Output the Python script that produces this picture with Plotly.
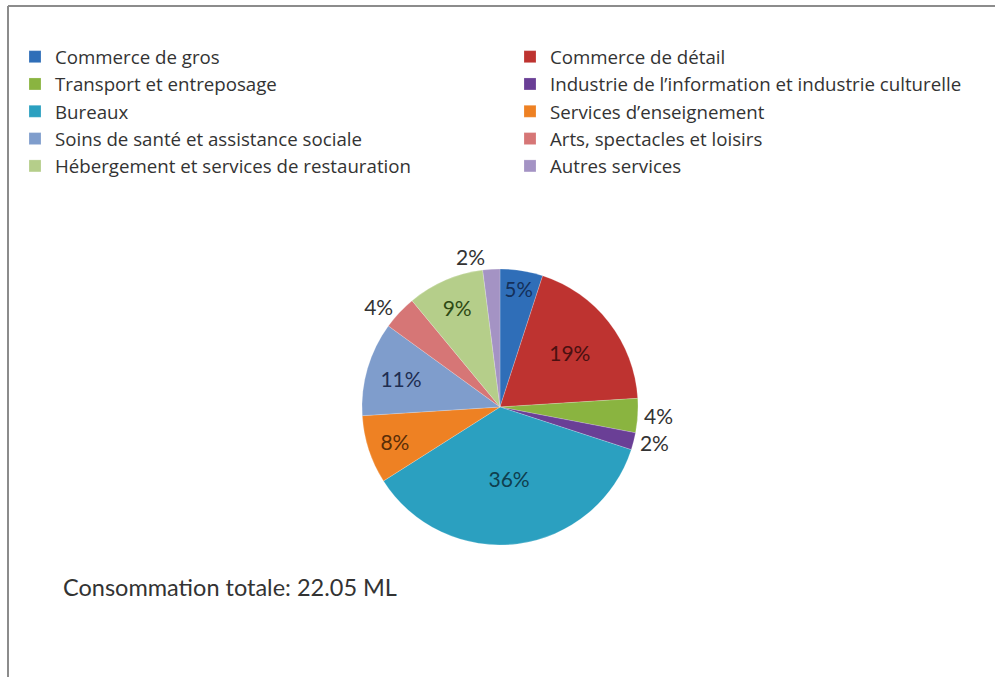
import plotly.graph_objects as go

categories = [
    "Commerce de gros",
    "Commerce de détail",
    "Transport et entreposage",
    "Industrie de l’information et industrie culturelle",
    "Bureaux",
    "Services d’enseignement",
    "Soins de santé et assistance sociale",
    "Arts, spectacles et loisirs",
    "Hébergement et services de restauration",
    "Autres services",
]
shares = [5, 19, 4, 2, 36, 8, 11, 4, 9, 2]
slice_colors = ["#2F6EB8", "#BE3330", "#8AB440", "#6A3F96", "#2BA0C0",
                "#EE8123", "#7F9DCC", "#D67676", "#B5CE8A", "#A493C4"]
label_colors = ["#14305A", "#4A1010", "#333333", "#333333", "#0F3E4E",
                "#5A2E08", "#1E2E52", "#333333", "#2E4A14", "#333333"]
text_positions = ["inside", "inside", "outside", "outside", "inside",
                  "inside", "inside", "outside", "inside", "outside"]
total_note = "Consommation totale: 22.05 ML"

W, H = 995, 677
cx, cy, r = 500, 407, 138
FONT = "Lato, Open Sans, sans-serif"
LEG_FONT = "Open Sans, Lato, sans-serif"

fig = go.Figure(go.Pie(
    labels=categories,
    values=shares,
    sort=False,
    direction="clockwise",
    rotation=0,
    marker=dict(colors=slice_colors, line=dict(color="rgba(255,255,255,0.4)", width=0.5)),
    texttemplate="%{value}%",
    textposition=text_positions,
    insidetextorientation="horizontal",
    textfont=dict(family=FONT, size=21, color=label_colors),
    outsidetextfont=dict(family=FONT, size=21, color="#333333"),
    domain=dict(x=[(cx - r) / W, (cx + r) / W], y=[1 - (cy + r) / H, 1 - (cy - r) / H]),
    automargin=False,
    hoverinfo="label+percent",
))

fig.update_layout(
    width=W, height=H,
    margin=dict(l=0, r=0, t=0, b=0, autoexpand=False),
    paper_bgcolor="white",
    plot_bgcolor="white",
    showlegend=True,
    legend=dict(
        orientation="h",
        xref="container", yref="container",
        x=15 / W, y=1 - 38 / H,
        xanchor="left", yanchor="top",
        entrywidth=450, entrywidthmode="pixels",
        bgcolor="rgba(0,0,0,0)",
        font=dict(family=LEG_FONT, size=18.7, color="#333333"),
        itemclick=False, itemdoubleclick=False,
        tracegroupgap=0,
    ),
    annotations=[dict(
        text=total_note, xref="paper", yref="paper",
        x=61 / W, y=1 - 587 / H, xanchor="left", yanchor="middle",
        showarrow=False,
        font=dict(family=FONT, size=23.5, color="#333333"),
    )],
    shapes=[
        dict(type="line", xref="paper", yref="paper", x0=8 / W, x1=1, y0=1 - 6 / H, y1=1 - 6 / H,
             line=dict(color="#8C8C8C", width=2)),
        dict(type="line", xref="paper", yref="paper", x0=8 / W, x1=8 / W, y0=0, y1=1 - 6 / H,
             line=dict(color="#8C8C8C", width=2)),
    ],
)

fig.write_html("out.html")
